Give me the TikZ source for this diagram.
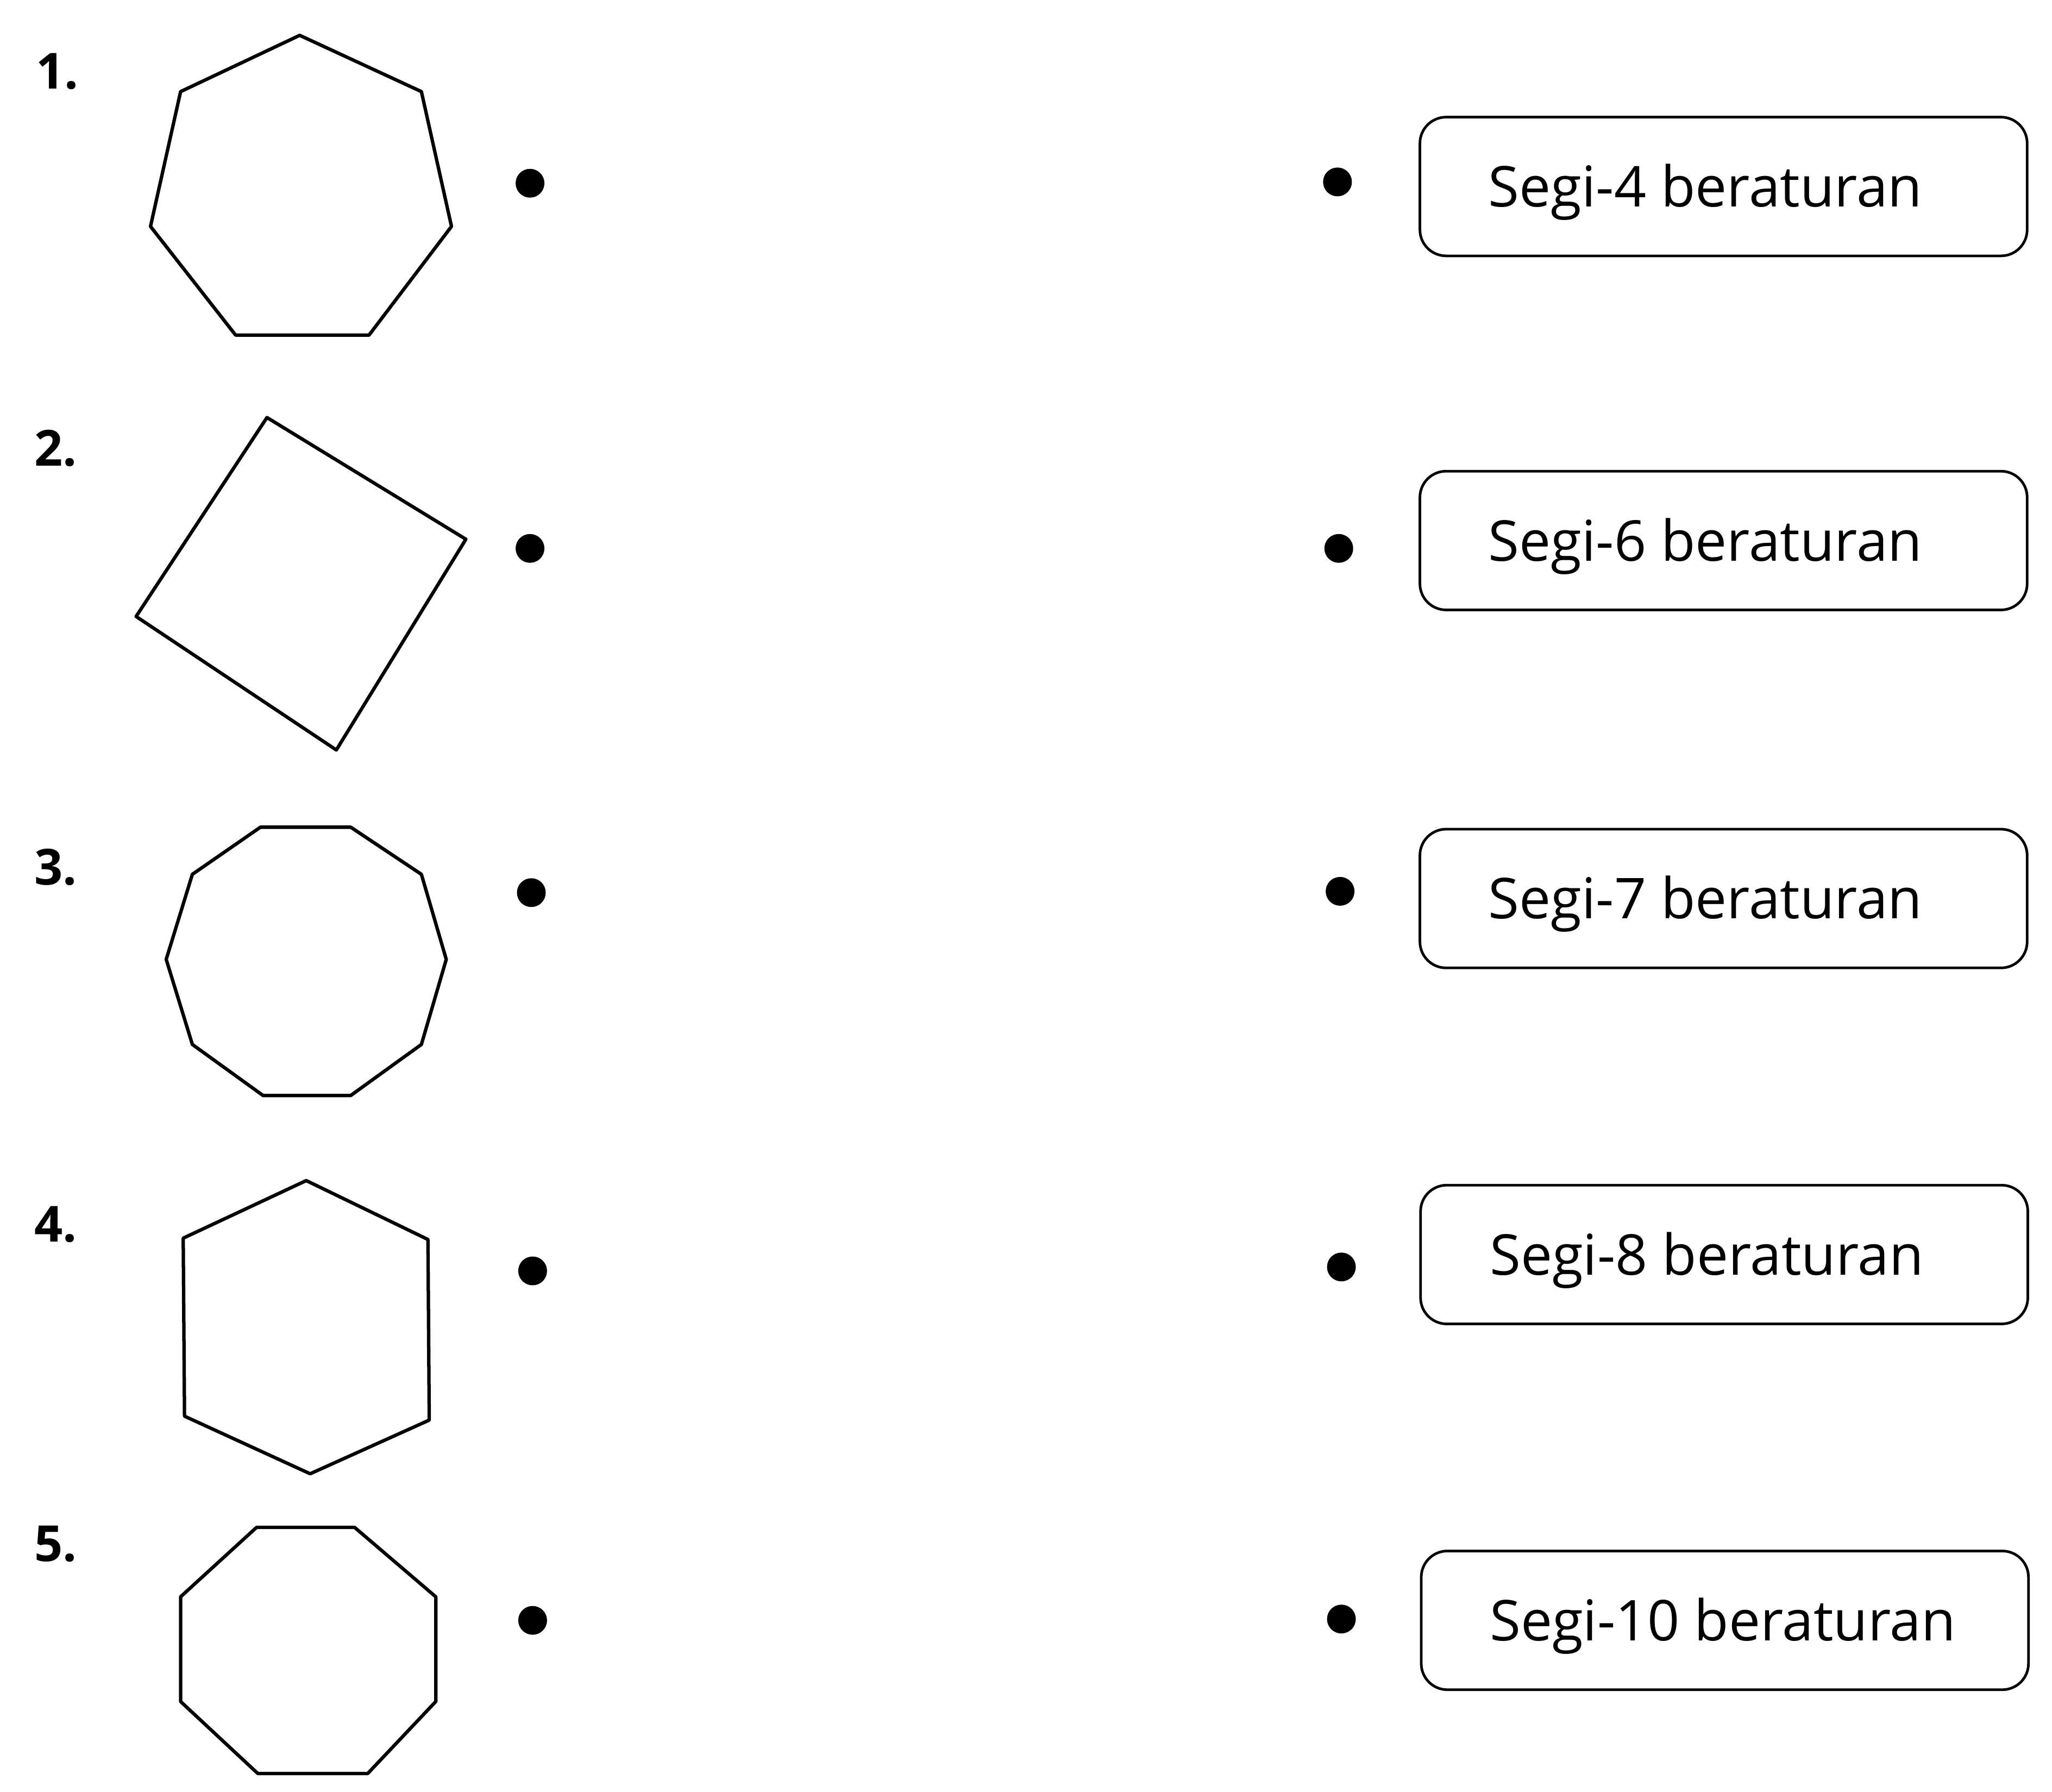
\documentclass[tikz,border=0pt]{standalone}
\usepackage{fontspec}
\setmainfont{Open Sans}
\begin{document}
\begin{tikzpicture}[x=0.5pt,y=-0.5pt,
  poly/.style={line width=1.3pt, line join=round},
  dotn/.style={circle, fill=black, inner sep=0pt, minimum size=11pt},
  box/.style={draw, rounded corners=10pt, line width=1pt, minimum width=232pt, minimum height=53pt, inner sep=0pt},
  lbl/.style={font=\fontsize{21.5}{26}\selectfont, anchor=base west, inner sep=0pt},
  num/.style={font=\bfseries\fontsize{19}{22}\selectfont, anchor=base west, inner sep=0pt}]
\useasboundingbox (0,0) rectangle (1568,1369);

% numbers
\node[num] (n1) at (27,68) {1.};
\node[num] (n2) at (26,356) {2.};
\node[num] (n3) at (26,676) {3.};
\node[num] (n4) at (26,949) {4.};
\node[num] (n5) at (26,1193) {5.};

% 1: heptagon
\draw[poly] (229,27) -- (322,70) -- (345,173) -- (282,256) -- (180,256) -- (115,173) -- (138,70) -- cycle;
% 2: square
\draw[poly] (204,319) -- (356,412) -- (257,573) -- (104,471) -- cycle;
% 3: decagon
\draw[poly] (199,632) -- (268,632) -- (322,668) -- (341,733) -- (322,798) -- (268,837) -- (201,837) -- (147,798) -- (127,733) -- (147,668) -- cycle;
% 4: hexagon
\draw[poly] (234,902) -- (327,947) -- (328,1085) -- (237,1126) -- (141,1082) -- (140,946) -- cycle;
% 5: octagon
\draw[poly] (196,1167) -- (271,1167) -- (333,1220) -- (333,1300) -- (281,1355) -- (197,1355) -- (138,1300) -- (138,1220) -- cycle;

% left dots
\node[dotn] (l1) at (405,140) {};
\node[dotn] (l2) at (405,419) {};
\node[dotn] (l3) at (406,682) {};
\node[dotn] (l4) at (407,971) {};
\node[dotn] (l5) at (407,1238) {};
% right dots
\node[dotn] (r1) at (1022,139) {};
\node[dotn] (r2) at (1023,419) {};
\node[dotn] (r3) at (1024,681) {};
\node[dotn] (r4) at (1025,968) {};
\node[dotn] (r5) at (1025,1237) {};

% boxes
\node[box] (b1) at (1317,142.5) {};
\node[box] (b2) at (1317,413) {};
\node[box] (b3) at (1317,686.5) {};
\node[box] (b4) at (1317.5,958.5) {};
\node[box] (b5) at (1318,1238) {};

\node[lbl] (t1) at (1137,158) {Segi-4 beraturan};
\node[lbl] (t2) at (1137,428.5) {Segi-6 beraturan};
\node[lbl] (t3) at (1137,702) {Segi-7 beraturan};
\node[lbl] (t4) at (1138,974) {Segi-8 beraturan};
\node[lbl] (t5) at (1138,1253.5) {Segi-10 beraturan};
\end{tikzpicture}
\end{document}
